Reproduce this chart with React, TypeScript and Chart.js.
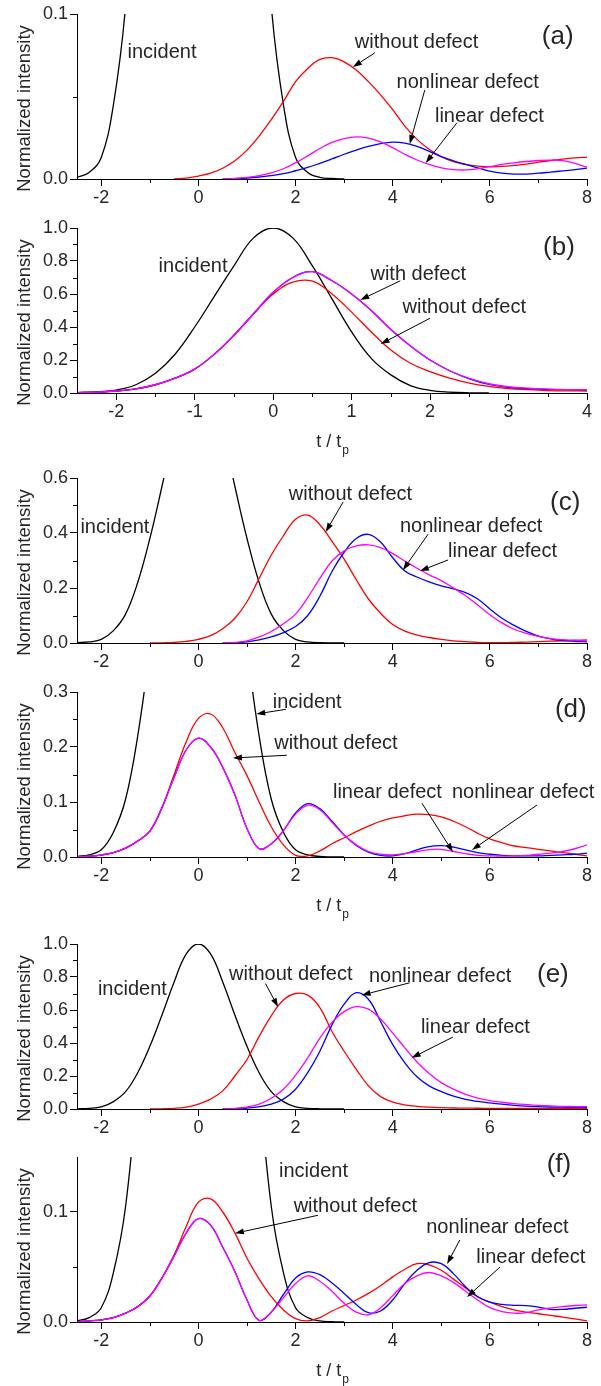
import React, { useEffect, useRef } from "react";
import { Chart, registerables } from "chart.js";

Chart.register(...registerables);

const FONT = '"Liberation Sans", Arial, Helvetica, sans-serif';
const INK = "#262626";
const RED = "#ff0000";
const BLUE = "#0000ff";
const MAGENTA = "#ff00ff";
const BLACK = "#000000";
const _ = null;

// ---------- time grids (t / tp) ----------
const T_MAIN = [-2.5, -2.25, -2, -1.75, -1.5, -1.25, -1, -0.75, -0.5, -0.25, 0, 0.25, 0.5, 0.75, 1, 1.25, 1.5, 1.75, 2, 2.25, 2.5, 2.75, 3, 3.25, 3.5, 3.75, 4, 4.25, 4.5, 4.75, 5, 5.25, 5.5, 5.75, 6, 6.25, 6.5, 6.75, 7, 7.25, 7.5, 7.75, 8];
const T_B = [-2.5, -2.25, -2, -1.75, -1.5, -1.25, -1, -0.75, -0.5, -0.25, 0, 0.25, 0.5, 0.75, 1, 1.25, 1.5, 1.75, 2, 2.25, 2.5, 2.75, 3, 3.25, 3.5, 3.75, 4];

// ---------- incident pulse ----------
const INCIDENT = [0.001, 0.004, 0.013, 0.045, 0.105, 0.22, 0.38, 0.57, 0.77, 0.94, 1, 0.94, 0.77, 0.57, 0.38, 0.22, 0.105, 0.045, 0.013, 0.004, 0.001, 0.0003, 0, _, _, _, _, _, _, _, _, _, _, _, _, _, _, _, _, _, _, _, _];

// ---------- panel (a) ----------
const A_RED = [_, _, _, _, _, _, _, _, 0, 0.0005, 0.0018, 0.0035, 0.0065, 0.011, 0.0175, 0.026, 0.036, 0.047, 0.059, 0.067, 0.0725, 0.0735, 0.071, 0.066, 0.059, 0.051, 0.042, 0.032, 0.024, 0.018, 0.0135, 0.0105, 0.0088, 0.0078, 0.0074, 0.0076, 0.0082, 0.009, 0.0102, 0.0112, 0.0121, 0.0128, 0.0133];
const A_BLUE = [_, _, _, _, _, _, _, _, _, _, _, _, 0, 0.0002, 0.0006, 0.0012, 0.002, 0.0032, 0.005, 0.007, 0.0095, 0.0122, 0.015, 0.0175, 0.0197, 0.0215, 0.0224, 0.0218, 0.0198, 0.0168, 0.0135, 0.011, 0.0088, 0.0068, 0.0048, 0.0035, 0.003, 0.003, 0.0035, 0.0042, 0.0049, 0.0057, 0.0066];
const A_MAG = [_, _, _, _, _, _, _, _, _, _, _, _, 0, 0.0003, 0.001, 0.002, 0.0037, 0.0062, 0.0098, 0.014, 0.0185, 0.0222, 0.0245, 0.0255, 0.0248, 0.0225, 0.019, 0.015, 0.0115, 0.0088, 0.0068, 0.0057, 0.0055, 0.0062, 0.0075, 0.0088, 0.0098, 0.0106, 0.0112, 0.0115, 0.0112, 0.0095, 0.0071];

// ---------- panel (b) ----------
const B_INCIDENT = [0.002, 0.006, 0.018, 0.05, 0.12, 0.235, 0.4, 0.585, 0.77, 0.94, 1, 0.94, 0.77, 0.57, 0.37, 0.21, 0.11, 0.045, 0.016, 0.005, 0.001, 0, _, _, _, _, _];
const B_RED = [0.002, 0.005, 0.012, 0.025, 0.05, 0.09, 0.145, 0.235, 0.35, 0.48, 0.6, 0.672, 0.678, 0.6, 0.49, 0.37, 0.26, 0.18, 0.13, 0.09, 0.06, 0.04, 0.027, 0.02, 0.015, 0.013, 0.012];
const B_BLUE = [0.002, 0.005, 0.012, 0.025, 0.05, 0.09, 0.145, 0.235, 0.35, 0.48, 0.61, 0.7, 0.735, 0.68, 0.6, 0.5, 0.385, 0.285, 0.2, 0.135, 0.086, 0.052, 0.034, 0.026, 0.022, 0.02, 0.019];
const B_MAG = [0.002, 0.005, 0.012, 0.025, 0.05, 0.09, 0.145, 0.235, 0.35, 0.48, 0.61, 0.7, 0.735, 0.68, 0.6, 0.5, 0.385, 0.285, 0.2, 0.135, 0.088, 0.056, 0.038, 0.029, 0.024, 0.021, 0.02];

// ---------- panel (c) ----------
const C_RED = [_, _, _, _, _, _, 0, 0.0008, 0.002, 0.006, 0.0135, 0.027, 0.052, 0.09, 0.15, 0.235, 0.32, 0.39, 0.45, 0.465, 0.43, 0.37, 0.305, 0.23, 0.16, 0.108, 0.067, 0.043, 0.029, 0.02, 0.013, 0.008, 0.005, 0.002, 0.001, 0.001, 0.002, 0.0035, 0.005, 0.0065, 0.008, 0.0095, 0.011];
const C_BLUE = [_, _, _, _, _, _, _, _, _, _, _, _, 0, 0.001, 0.004, 0.011, 0.022, 0.038, 0.06, 0.1, 0.17, 0.26, 0.33, 0.38, 0.395, 0.367, 0.31, 0.262, 0.24, 0.222, 0.208, 0.197, 0.183, 0.16, 0.124, 0.09, 0.064, 0.042, 0.025, 0.015, 0.009, 0.006, 0.004];
const C_MAG = [_, _, _, _, _, _, _, _, _, _, _, _, 0, 0.002, 0.008, 0.022, 0.042, 0.07, 0.105, 0.165, 0.235, 0.298, 0.335, 0.353, 0.357, 0.347, 0.325, 0.298, 0.272, 0.248, 0.227, 0.2, 0.172, 0.138, 0.103, 0.073, 0.05, 0.035, 0.024, 0.016, 0.012, 0.01, 0.008];

// ---------- panel (d) ----------
const D_RED = [0.0005, 0.0015, 0.0036, 0.008, 0.016, 0.029, 0.047, 0.09, 0.15, 0.21, 0.252, 0.26, 0.235, 0.19, 0.148, 0.1, 0.055, 0.022, 0.003, 0.002, 0.011, 0.024, 0.035, 0.046, 0.056, 0.065, 0.071, 0.075, 0.078, 0.077, 0.073, 0.065, 0.055, 0.043, 0.033, 0.026, 0.02, 0.017, 0.014, 0.011, 0.008, 0.005, 0.002];
const D_BLUE = [0.0005, 0.0015, 0.0036, 0.008, 0.016, 0.029, 0.047, 0.09, 0.145, 0.195, 0.216, 0.2, 0.163, 0.113, 0.052, 0.015, 0.024, 0.048, 0.08, 0.097, 0.088, 0.065, 0.04, 0.021, 0.009, 0.003, 0.002, 0.006, 0.013, 0.019, 0.0205, 0.018, 0.013, 0.008, 0.005, 0.003, 0.002, 0.002, 0.002, 0.003, 0.004, 0.005, 0.007];
const D_MAG = [0.0005, 0.0015, 0.0036, 0.008, 0.016, 0.029, 0.047, 0.09, 0.145, 0.195, 0.216, 0.2, 0.163, 0.113, 0.052, 0.015, 0.024, 0.048, 0.078, 0.094, 0.086, 0.063, 0.04, 0.022, 0.01, 0.005, 0.004, 0.006, 0.01, 0.0135, 0.014, 0.01, 0.006, 0.003, 0.002, 0.0015, 0.002, 0.003, 0.005, 0.007, 0.01, 0.015, 0.022];

// ---------- panel (e) ----------
const E_RED = [_, _, _, _, _, _, 0, 0.001, 0.004, 0.012, 0.03, 0.06, 0.11, 0.2, 0.3, 0.44, 0.565, 0.66, 0.7, 0.69, 0.615, 0.47, 0.35, 0.24, 0.14, 0.075, 0.042, 0.025, 0.016, 0.011, 0.008, 0.006, 0.005, 0.0045, 0.004, 0.004, 0.004, 0.004, 0.004, 0.004, 0.004, 0.004, 0.004];
const E_BLUE = [_, _, _, _, _, _, _, _, _, _, _, _, 0, 0.002, 0.006, 0.014, 0.03, 0.06, 0.12, 0.22, 0.35, 0.51, 0.635, 0.705, 0.665, 0.53, 0.39, 0.28, 0.195, 0.14, 0.105, 0.078, 0.058, 0.046, 0.037, 0.029, 0.022, 0.017, 0.014, 0.012, 0.011, 0.01, 0.01];
const E_MAG = [_, _, _, _, _, _, _, _, _, _, _, _, 0, 0.004, 0.012, 0.03, 0.065, 0.12, 0.205, 0.31, 0.43, 0.525, 0.59, 0.62, 0.605, 0.545, 0.46, 0.37, 0.285, 0.215, 0.16, 0.12, 0.088, 0.066, 0.051, 0.041, 0.033, 0.027, 0.022, 0.019, 0.016, 0.015, 0.014];

// ---------- panel (f) ----------
const F_RED = [0.0003, 0.001, 0.002, 0.004, 0.008, 0.014, 0.0236, 0.04, 0.061, 0.087, 0.109, 0.112, 0.1, 0.081, 0.058, 0.039, 0.023, 0.011, 0.003, 0.001, 0.004, 0.01, 0.015, 0.02, 0.026, 0.033, 0.041, 0.048, 0.053, 0.052, 0.047, 0.039, 0.031, 0.023, 0.018, 0.014, 0.011, 0.009, 0.0075, 0.006, 0.0045, 0.0028, 0.001];
const F_BLUE = [0.0003, 0.001, 0.002, 0.004, 0.008, 0.014, 0.0236, 0.04, 0.06, 0.081, 0.094, 0.088, 0.068, 0.046, 0.02, 0.0015, 0.009, 0.025, 0.04, 0.0455, 0.043, 0.0355, 0.026, 0.016, 0.0085, 0.01, 0.02, 0.035, 0.047, 0.054, 0.053, 0.044, 0.032, 0.023, 0.018, 0.016, 0.0152, 0.0148, 0.0135, 0.0115, 0.0115, 0.0125, 0.0134];
const F_MAG = [0.0003, 0.001, 0.002, 0.004, 0.008, 0.014, 0.0236, 0.04, 0.06, 0.081, 0.094, 0.088, 0.068, 0.046, 0.02, 0.0015, 0.009, 0.022, 0.035, 0.042, 0.037, 0.028, 0.017, 0.009, 0.0066, 0.013, 0.024, 0.035, 0.042, 0.045, 0.042, 0.036, 0.028, 0.02, 0.013, 0.0095, 0.008, 0.0085, 0.011, 0.0127, 0.014, 0.015, 0.0155];

// ---------- ticks ----------
const X_TICKS_MAIN = [-2, 0, 2, 4, 6, 8];
const X_MINOR_MAIN = [-1, 1, 3, 5, 7];
const X_TICKS_B = [-2, -1, 0, 1, 2, 3, 4];
const X_MINOR_B = [-1.5, -0.5, 0.5, 1.5, 2.5, 3.5];
const Y_TICKS_A = [0, 0.1];
const Y_MINOR_A = [0.05];
const Y_TICKS_B = [0, 0.2, 0.4, 0.6, 0.8, 1.0];
const Y_MINOR_B = [0.1, 0.3, 0.5, 0.7, 0.9];
const Y_TICKS_C = [0, 0.2, 0.4, 0.6];
const Y_MINOR_C = [0.1, 0.3, 0.5];
const Y_TICKS_D = [0, 0.1, 0.2, 0.3];
const Y_MINOR_D = [0.05, 0.15, 0.25];
const Y_TICKS_F = [0, 0.1];
const Y_MINOR_F = [0.05];

type Note = { text: string; x: number; y: number };
type Arrow = { x1: number; y1: number; x2: number; y2: number };
type Series = { v: (number | null)[]; color: string };
type PanelCfg = {
  plotTop: number;
  t: number[];
  series: Series[];
  xMin: number; xMax: number; xTicks: number[]; xMinor: number[];
  yMax: number; yTicks: number[]; yMinor: number[];
  xTitle: boolean;
  label: Note;
  notes: Note[];
  arrows: Arrow[];
};

const PANELS: PanelCfg[] = [
  {
    plotTop: 14, t: T_MAIN,
    series: [{ v: INCIDENT, color: BLACK }, { v: A_RED, color: RED }, { v: A_BLUE, color: BLUE }, { v: A_MAG, color: MAGENTA }],
    xMin: -2.5, xMax: 8, xTicks: X_TICKS_MAIN, xMinor: X_MINOR_MAIN,
    yMax: 0.1, yTicks: Y_TICKS_A, yMinor: Y_MINOR_A, xTitle: false,
    label: { text: "(a)", x: 7.07, y: 0.0821 },
    notes: [
      { text: "incident", x: -1.46, y: 0.0733 },
      { text: "without defect", x: 3.22, y: 0.0794 },
      { text: "nonlinear defect", x: 4.08, y: 0.0552 },
      { text: "linear defect", x: 4.87, y: 0.0345 },
    ],
    arrows: [
      { x1: 3.63, y1: 0.0764, x2: 3.18, y2: 0.0679 },
      { x1: 4.66, y1: 0.0539, x2: 4.35, y2: 0.0212 },
      { x1: 5.32, y1: 0.034, x2: 4.68, y2: 0.0097 },
    ],
  },
  {
    plotTop: 228, t: T_B,
    series: [{ v: B_INCIDENT, color: BLACK }, { v: B_RED, color: RED }, { v: B_BLUE, color: BLUE }, { v: B_MAG, color: MAGENTA }],
    xMin: -2.5, xMax: 4, xTicks: X_TICKS_B, xMinor: X_MINOR_B,
    yMax: 1, yTicks: Y_TICKS_B, yMinor: Y_MINOR_B, xTitle: true,
    label: { text: "(b)", x: 3.44, y: 0.839 },
    notes: [
      { text: "incident", x: -1.46, y: 0.733 },
      { text: "with defect", x: 1.24, y: 0.685 },
      { text: "without defect", x: 1.65, y: 0.485 },
    ],
    arrows: [
      { x1: 1.62, y1: 0.68, x2: 1.11, y2: 0.564 },
      { x1: 2.0, y1: 0.453, x2: 1.37, y2: 0.297 },
    ],
  },
  {
    plotTop: 478, t: T_MAIN,
    series: [{ v: INCIDENT, color: BLACK }, { v: C_RED, color: RED }, { v: C_BLUE, color: BLUE }, { v: C_MAG, color: MAGENTA }],
    xMin: -2.5, xMax: 8, xTicks: X_TICKS_MAIN, xMinor: X_MINOR_MAIN,
    yMax: 0.6, yTicks: Y_TICKS_C, yMinor: Y_MINOR_C, xTitle: false,
    label: { text: "(c)", x: 7.24, y: 0.485 },
    notes: [
      { text: "incident", x: -2.43, y: 0.4 },
      { text: "without defect", x: 1.86, y: 0.52 },
      { text: "nonlinear defect", x: 4.15, y: 0.404 },
      { text: "linear defect", x: 5.14, y: 0.313 },
    ],
    arrows: [
      { x1: 2.98, y1: 0.513, x2: 2.62, y2: 0.404 },
      { x1: 4.73, y1: 0.396, x2: 4.21, y2: 0.265 },
      { x1: 5.14, y1: 0.302, x2: 4.56, y2: 0.262 },
    ],
  },
  {
    plotTop: 692, t: T_MAIN,
    series: [{ v: INCIDENT, color: BLACK }, { v: D_RED, color: RED }, { v: D_BLUE, color: BLUE }, { v: D_MAG, color: MAGENTA }],
    xMin: -2.5, xMax: 8, xTicks: X_TICKS_MAIN, xMinor: X_MINOR_MAIN,
    yMax: 0.3, yTicks: Y_TICKS_D, yMinor: Y_MINOR_D, xTitle: true,
    label: { text: "(d)", x: 7.34, y: 0.254 },
    notes: [
      { text: "incident", x: 1.53, y: 0.271 },
      { text: "without defect", x: 1.56, y: 0.196 },
      { text: "linear defect", x: 2.77, y: 0.107 },
      { text: "nonlinear defect", x: 5.22, y: 0.107 },
    ],
    arrows: [
      { x1: 1.8, y1: 0.2685, x2: 1.19, y2: 0.26 },
      { x1: 1.82, y1: 0.185, x2: 0.71, y2: 0.18 },
      { x1: 4.6, y1: 0.098, x2: 5.24, y2: 0.009 },
      { x1: 6.97, y1: 0.0945, x2: 5.63, y2: 0.0127 },
    ],
  },
  {
    plotTop: 944, t: T_MAIN,
    series: [{ v: INCIDENT, color: BLACK }, { v: E_RED, color: RED }, { v: E_BLUE, color: BLUE }, { v: E_MAG, color: MAGENTA }],
    xMin: -2.5, xMax: 8, xTicks: X_TICKS_MAIN, xMinor: X_MINOR_MAIN,
    yMax: 1, yTicks: Y_TICKS_B, yMinor: Y_MINOR_B, xTitle: false,
    label: { text: "(e)", x: 6.97, y: 0.767 },
    notes: [
      { text: "incident", x: -2.07, y: 0.69 },
      { text: "without defect", x: 0.63, y: 0.78 },
      { text: "nonlinear defect", x: 3.51, y: 0.77 },
      { text: "linear defect", x: 4.58, y: 0.46 },
    ],
    arrows: [
      { x1: 1.38, y1: 0.76, x2: 1.64, y2: 0.618 },
      { x1: 4.35, y1: 0.765, x2: 3.36, y2: 0.69 },
      { x1: 5.24, y1: 0.436, x2: 4.39, y2: 0.31 },
    ],
  },
  {
    plotTop: 1157, t: T_MAIN,
    series: [{ v: INCIDENT, color: BLACK }, { v: F_RED, color: RED }, { v: F_BLUE, color: BLUE }, { v: F_MAG, color: MAGENTA }],
    xMin: -2.5, xMax: 8, xTicks: X_TICKS_MAIN, xMinor: X_MINOR_MAIN,
    yMax: 0.15, yTicks: Y_TICKS_F, yMinor: Y_MINOR_F, xTitle: true,
    label: { text: "(f)", x: 7.17, y: 0.1368 },
    notes: [
      { text: "incident", x: 1.66, y: 0.132 },
      { text: "without defect", x: 1.96, y: 0.1 },
      { text: "nonlinear defect", x: 4.69, y: 0.081 },
      { text: "linear defect", x: 5.72, y: 0.0536 },
    ],
    arrows: [
      { x1: 2.46, y1: 0.097, x2: 0.75, y2: 0.0806 },
      { x1: 5.38, y1: 0.0745, x2: 5.12, y2: 0.0527 },
      { x1: 6.21, y1: 0.05, x2: 5.53, y2: 0.0227 },
    ],
  },
];

const PAD_TOP = 14;
const PLOT_H = 165;
const X_AXIS_H = 70;
const CANVAS_W = 601;
const CANVAS_H = PAD_TOP + PLOT_H + X_AXIS_H;

function makeExtras(cfg: PanelCfg) {
  return {
    id: "extras",
    afterDraw(chart: any) {
      const { ctx, chartArea: ca } = chart;
      const xs = chart.scales.x;
      const ys = chart.scales.y;
      ctx.save();
      // minor ticks
      ctx.strokeStyle = "#000";
      ctx.lineWidth = 1;
      ctx.beginPath();
      cfg.xMinor.forEach((v) => {
        const px = Math.round(xs.getPixelForValue(v)) + 0.5;
        ctx.moveTo(px, ca.bottom);
        ctx.lineTo(px, ca.bottom + 4);
      });
      cfg.yMinor.forEach((v) => {
        const py = Math.round(ys.getPixelForValue(v)) + 0.5;
        ctx.moveTo(ca.left, py);
        ctx.lineTo(ca.left - 4, py);
      });
      ctx.stroke();

      // y-axis title
      ctx.fillStyle = INK;
      ctx.save();
      ctx.translate(25, (ca.top + ca.bottom) / 2 + 12);
      ctx.rotate(-Math.PI / 2);
      ctx.textAlign = "center";
      ctx.textBaseline = "middle";
      ctx.font = `18.5px ${FONT}`;
      ctx.fillText("Normalized intensity", 0, 0);
      ctx.restore();

      // x-axis title
      if (cfg.xTitle) {
        ctx.font = `18px ${FONT}`;
        const main = "t / t";
        const w1 = ctx.measureText(main).width;
        ctx.font = `12px ${FONT}`;
        const w2 = ctx.measureText("p").width;
        const x0 = (ca.left + ca.right) / 2 - (w1 + w2) / 2;
        const by = ca.bottom + 54;
        ctx.textAlign = "left";
        ctx.textBaseline = "alphabetic";
        ctx.font = `18px ${FONT}`;
        ctx.fillText(main, x0, by);
        ctx.font = `12px ${FONT}`;
        ctx.fillText("p", x0 + w1 + 1, by + 7);
      }

      // notes
      ctx.textAlign = "left";
      ctx.textBaseline = "alphabetic";
      ctx.font = `20px ${FONT}`;
      cfg.notes.forEach((n) => {
        ctx.fillText(n.text, xs.getPixelForValue(n.x), ys.getPixelForValue(n.y));
      });
      ctx.font = `26px ${FONT}`;
      ctx.fillText(cfg.label.text, xs.getPixelForValue(cfg.label.x), ys.getPixelForValue(cfg.label.y));

      // arrows
      ctx.strokeStyle = "#000";
      ctx.fillStyle = "#000";
      ctx.lineWidth = 1;
      cfg.arrows.forEach((a) => {
        const x1 = xs.getPixelForValue(a.x1);
        const y1 = ys.getPixelForValue(a.y1);
        const x2 = xs.getPixelForValue(a.x2);
        const y2 = ys.getPixelForValue(a.y2);
        const ang = Math.atan2(y2 - y1, x2 - x1);
        const L = 9;
        const W = 3;
        const bx = x2 - L * Math.cos(ang);
        const by = y2 - L * Math.sin(ang);
        ctx.beginPath();
        ctx.moveTo(x1, y1);
        ctx.lineTo(bx, by);
        ctx.stroke();
        ctx.beginPath();
        ctx.moveTo(x2, y2);
        ctx.lineTo(bx + W * Math.sin(ang), by - W * Math.cos(ang));
        ctx.lineTo(bx - W * Math.sin(ang), by + W * Math.cos(ang));
        ctx.closePath();
        ctx.fill();
      });
      ctx.restore();
    },
  };
}

function buildConfig(cfg: PanelCfg): any {
  const datasets = cfg.series
    .map((s) => ({
      data: cfg.t.map((t, i) => ({ x: t, y: s.v[i] })),
      borderColor: s.color,
      backgroundColor: s.color,
      borderWidth: 1.3,
      pointRadius: 0,
      fill: false,
      spanGaps: false,
      tension: 0.4,
    }))
    .reverse();
  const tickFont = { family: FONT, size: 18 };
  return {
    type: "line",
    data: { datasets },
    options: {
      animation: false,
      responsive: false,
      devicePixelRatio: 1,
      events: [],
      layout: { padding: { top: PAD_TOP, right: 14, left: 0, bottom: 0 } },
      plugins: { legend: { display: false }, tooltip: { enabled: false }, title: { display: false } },
      scales: {
        x: {
          type: "linear",
          min: cfg.xMin,
          max: cfg.xMax,
          afterBuildTicks: (s: any) => {
            s.ticks = cfg.xTicks.map((v) => ({ value: v }));
          },
          afterFit: (s: any) => {
            s.height = X_AXIS_H;
          },
          grid: { display: true, drawOnChartArea: false, drawTicks: true, tickLength: 7, color: "#000", lineWidth: 1 },
          border: { display: true, color: "#000", width: 1, z: 1 },
          ticks: { font: tickFont, color: INK, padding: 1, maxRotation: 0, autoSkip: false, callback: (v: any) => String(v) },
        },
        y: {
          type: "linear",
          min: 0,
          max: cfg.yMax,
          afterBuildTicks: (s: any) => {
            s.ticks = cfg.yTicks.map((v) => ({ value: v }));
          },
          afterFit: (s: any) => {
            s.width = 77;
          },
          grid: { display: true, drawOnChartArea: false, drawTicks: true, tickLength: 7, color: "#000", lineWidth: 1 },
          border: { display: true, color: "#000", width: 1, z: 1 },
          ticks: { font: tickFont, color: INK, padding: 2, autoSkip: false, callback: (v: any) => Number(v).toFixed(1) },
        },
      },
    },
    plugins: [makeExtras(cfg)],
  };
}

function Panel({ cfg }: { cfg: PanelCfg }) {
  const ref = useRef<HTMLCanvasElement>(null);
  useEffect(() => {
    if (!ref.current) return;
    const chart = new Chart(ref.current, buildConfig(cfg));
    return () => chart.destroy();
  }, [cfg]);
  return (
    <canvas
      ref={ref}
      width={CANVAS_W}
      height={CANVAS_H}
      style={{ position: "absolute", left: 0, top: cfg.plotTop - PAD_TOP, width: CANVAS_W, height: CANVAS_H }}
    />
  );
}

export default function App() {
  return (
    <div style={{ position: "absolute", left: 0, top: 0, width: 601, height: 1386, background: "#fff", overflow: "hidden" }}>
      {PANELS.map((p, i) => (
        <Panel key={i} cfg={p} />
      ))}
    </div>
  );
}
